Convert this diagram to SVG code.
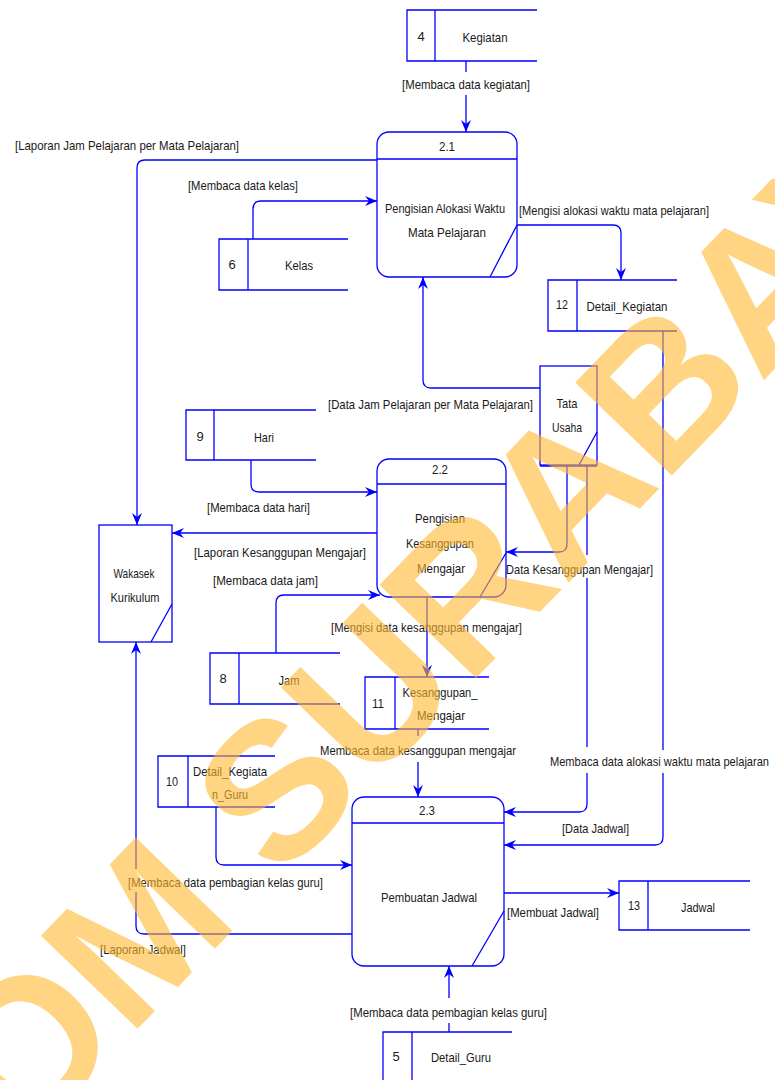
<svg xmlns="http://www.w3.org/2000/svg" width="775" height="1080" viewBox="0 0 775 1080">
<style>
.ln{fill:none;stroke:#0000FF;stroke-width:1.3}
.bx{fill:#fff;stroke:#0000FF;stroke-width:1.3}
.st{fill:none;stroke:#0000FF;stroke-width:1.3}
.t{font-family:"Liberation Sans",Arial,sans-serif;font-size:13px;fill:#1a1a1a}
.c{text-anchor:middle}
.e{text-anchor:end}
.wm{font-family:"Liberation Sans",Arial,sans-serif;font-weight:bold;font-size:195px;fill:#FFB830;fill-opacity:0.6}
</style>
<defs>
<marker id="ar" markerWidth="12" markerHeight="10" refX="12" refY="5" orient="auto" markerUnits="userSpaceOnUse">
<path d="M0,0 L12,5 L0,10 L4,5 z" fill="#0000FF"/>
</marker>
</defs>
<rect width="775" height="1080" fill="#fff"/>

<g id="connectors">
<path class="ln" d="M466,61 V72 M466,95 V132" marker-end="url(#ar)"/>
<path class="ln" d="M377,160 H145 Q137,160 137,168 V525" marker-end="url(#ar)"/>
<path class="ln" d="M253,239 V209 Q253,201 261,201 H377" marker-end="url(#ar)"/>
<path class="ln" d="M517,225 H613 Q621,225 621,233 V280" marker-end="url(#ar)"/>
<path class="ln" d="M540,388 H431 Q423,388 423,380 V277" marker-end="url(#ar)"/>
<path class="ln" d="M251,460 V484 Q251,492 259,492 H377" marker-end="url(#ar)"/>
<path class="ln" d="M377,533 H172" marker-end="url(#ar)"/>
<path class="ln" d="M276,653 V603 Q276,595 284,595 H380" marker-end="url(#ar)"/>
<path class="ln" d="M567,465 V544 Q567,552 559,552 H506" marker-end="url(#ar)"/>
<path class="ln" d="M427,597 V677" marker-end="url(#ar)"/>
<path class="ln" d="M418,729 V736 M418,762 V797" marker-end="url(#ar)"/>
<path class="ln" d="M587,465 V555 M587,578 V747 M587,773 V804 Q587,812 579,812 H504" marker-end="url(#ar)"/>
<path class="ln" d="M663,331 V750 M663,773 V837 Q663,845 655,845 H504" marker-end="url(#ar)"/>
<path class="ln" d="M216,807 V857 Q216,865 224,865 H352" marker-end="url(#ar)"/>
<path class="ln" d="M352,934 H144 Q136,934 136,926 V892 M136,869 V642" marker-end="url(#ar)"/>
<path class="ln" d="M504,893 H619" marker-end="url(#ar)"/>
<path class="ln" d="M449,1032 V1023 M449,998 V966" marker-end="url(#ar)"/>

<text class="t" x="15" y="150" textLength="224" lengthAdjust="spacingAndGlyphs">[Laporan Jam Pelajaran per Mata Pelajaran]</text>
<text class="t" x="188" y="190" textLength="110" lengthAdjust="spacingAndGlyphs">[Membaca data kelas]</text>
<text class="t" x="402" y="89" textLength="128" lengthAdjust="spacingAndGlyphs">[Membaca data kegiatan]</text>
<text class="t" x="519" y="215" textLength="190" lengthAdjust="spacingAndGlyphs">[Mengisi alokasi waktu mata pelajaran]</text>
<text class="t e" x="533" y="409" textLength="205" lengthAdjust="spacingAndGlyphs">[Data Jam Pelajaran per Mata Pelajaran]</text>
<text class="t" x="207" y="512" textLength="103" lengthAdjust="spacingAndGlyphs">[Membaca data hari]</text>
<text class="t" x="194" y="557" textLength="172" lengthAdjust="spacingAndGlyphs">[Laporan Kesanggupan Mengajar]</text>
<text class="t" x="213" y="585" textLength="105" lengthAdjust="spacingAndGlyphs">[Membaca data jam]</text>
<text class="t" x="506" y="574" textLength="147" lengthAdjust="spacingAndGlyphs">Data Kesanggupan Mengajar]</text>
<text class="t" x="331" y="632" textLength="191" lengthAdjust="spacingAndGlyphs">[Mengisi data kesanggupan mengajar]</text>
<text class="t" x="320" y="755" textLength="196" lengthAdjust="spacingAndGlyphs">Membaca data kesanggupan mengajar</text>
<text class="t e" x="769" y="766" textLength="219" lengthAdjust="spacingAndGlyphs">Membaca data alokasi waktu mata pelajaran</text>
<text class="t" x="562" y="833" textLength="67" lengthAdjust="spacingAndGlyphs">[Data Jadwal]</text>
<text class="t" x="128" y="887" textLength="195" lengthAdjust="spacingAndGlyphs">[Membaca data pembagian kelas guru]</text>
<text class="t" x="507" y="917" textLength="92" lengthAdjust="spacingAndGlyphs">[Membuat Jadwal]</text>
<text class="t" x="100" y="954" textLength="86" lengthAdjust="spacingAndGlyphs">[Laporan Jadwal]</text>
<text class="t" x="350" y="1017" textLength="197" lengthAdjust="spacingAndGlyphs">[Membaca data pembagian kelas guru]</text>
</g>

<g id="store-4">
<path class="st" d="M537,10 H407 V61 H537 M435,10 V61"/>
<text class="t c" x="421" y="41">4</text>
<text class="t c" x="485" y="42" textLength="45" lengthAdjust="spacingAndGlyphs">Kegiatan</text>
</g>
<g id="store-6">
<path class="st" d="M348,239 H219 V290 H348 M248,239 V290"/>
<text class="t c" x="232" y="269">6</text>
<text class="t c" x="299" y="270" textLength="28" lengthAdjust="spacingAndGlyphs">Kelas</text>
</g>
<g id="store-12">
<path class="st" d="M677,280 H548 V331 H677 M577,280 V331"/>
<text class="t c" x="562" y="309" textLength="12" lengthAdjust="spacingAndGlyphs">12</text>
<text class="t c" x="627" y="311" textLength="81" lengthAdjust="spacingAndGlyphs">Detail_Kegiatan</text>
</g>
<g id="store-9">
<path class="st" d="M316,410 H186 V460 H316 M214,410 V460"/>
<text class="t c" x="200" y="441">9</text>
<text class="t c" x="264" y="442" textLength="20" lengthAdjust="spacingAndGlyphs">Hari</text>
</g>
<g id="store-8">
<path class="st" d="M340,653 H210 V704 H340 M239,653 V704"/>
<text class="t c" x="223" y="683">8</text>
<text class="t c" x="289" y="685" textLength="21" lengthAdjust="spacingAndGlyphs">Jam</text>
</g>
<g id="store-11">
<path class="st" d="M489,677 H365 V729 H489 M395,677 V729"/>
<text class="t c" x="378" y="708" textLength="12" lengthAdjust="spacingAndGlyphs">11</text>
<text class="t c" x="440" y="697" textLength="75" lengthAdjust="spacingAndGlyphs">Kesanggupan_</text>
<text class="t c" x="441" y="720" textLength="48" lengthAdjust="spacingAndGlyphs">Mengajar</text>
</g>
<g id="store-10">
<path class="st" d="M275,756 H158 V807 H275 M188,756 V807"/>
<text class="t c" x="172" y="786" textLength="12" lengthAdjust="spacingAndGlyphs">10</text>
<text class="t c" x="230" y="776" textLength="74" lengthAdjust="spacingAndGlyphs">Detail_Kegiata</text>
<text class="t c" x="230" y="799" textLength="36" lengthAdjust="spacingAndGlyphs">n_Guru</text>
</g>
<g id="store-13">
<path class="st" d="M750,881 H619 V930 H750 M648,881 V930"/>
<text class="t c" x="634" y="910" textLength="12" lengthAdjust="spacingAndGlyphs">13</text>
<text class="t c" x="698" y="912" textLength="34" lengthAdjust="spacingAndGlyphs">Jadwal</text>
</g>
<g id="store-5">
<path class="st" d="M512,1032 H383 V1084 M412,1032 V1084"/>
<text class="t c" x="396" y="1061">5</text>
<text class="t c" x="461" y="1062" textLength="60" lengthAdjust="spacingAndGlyphs">Detail_Guru</text>
</g>

<g id="proc-2.1">
<rect class="bx" x="377" y="132" width="140" height="145" rx="12"/>
<path class="ln" d="M377,159 H517 M490,277 L517,225"/>
<text class="t c" x="447" y="151" textLength="16" lengthAdjust="spacingAndGlyphs">2.1</text>
<text class="t c" x="445" y="213" textLength="120" lengthAdjust="spacingAndGlyphs">Pengisian Alokasi Waktu</text>
<text class="t c" x="447" y="237" textLength="78" lengthAdjust="spacingAndGlyphs">Mata Pelajaran</text>
</g>
<g id="proc-2.2">
<rect class="bx" x="377" y="459" width="129" height="138" rx="12"/>
<path class="ln" d="M377,484 H506 M480,597 L506,553"/>
<text class="t c" x="440" y="474" textLength="16" lengthAdjust="spacingAndGlyphs">2.2</text>
<text class="t c" x="440" y="523" textLength="50" lengthAdjust="spacingAndGlyphs">Pengisian</text>
<text class="t c" x="440" y="548" textLength="68" lengthAdjust="spacingAndGlyphs">Kesanggupan</text>
<text class="t c" x="441" y="573" textLength="48" lengthAdjust="spacingAndGlyphs">Mengajar</text>
</g>
<g id="proc-2.3">
<rect class="bx" x="352" y="797" width="152" height="169" rx="12"/>
<path class="ln" d="M352,823 H504 M472,966 L504,911"/>
<text class="t c" x="427" y="815" textLength="16" lengthAdjust="spacingAndGlyphs">2.3</text>
<text class="t c" x="429" y="902" textLength="96" lengthAdjust="spacingAndGlyphs">Pembuatan Jadwal</text>
</g>

<g id="ext-wakasek">
<rect class="bx" x="99" y="525" width="73" height="117"/>
<path class="ln" d="M151,642 L172,604"/>
<text class="t c" x="134" y="578" textLength="41" lengthAdjust="spacingAndGlyphs">Wakasek</text>
<text class="t c" x="135" y="602" textLength="49" lengthAdjust="spacingAndGlyphs">Kurikulum</text>
</g>
<g id="ext-tatausaha">
<rect class="bx" x="540" y="366" width="57" height="99"/>
<path class="ln" d="M579,465 L597,432 M540,466 H597"/>
<text class="t c" x="567" y="408" textLength="21" lengthAdjust="spacingAndGlyphs">Tata</text>
<text class="t c" x="567" y="432" textLength="30" lengthAdjust="spacingAndGlyphs">Usaha</text>
</g>

<g id="watermark">
<text class="wm" x="-624" y="0" transform="translate(148,1018) rotate(-46)">STIKOM SURABAYA</text>
</g>
</svg>
